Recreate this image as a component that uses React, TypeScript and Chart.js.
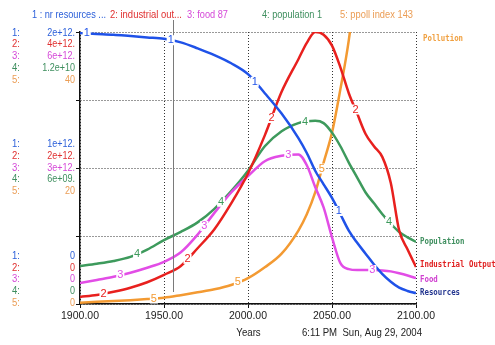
import { useEffect, useRef } from "react";
import { Chart, registerables } from "chart.js";
Chart.register(...registerables);

// ---- data ----
const years = [1900, 1910, 1920, 1930, 1940, 1950, 1960, 1970, 1980, 1990, 2000, 2010, 2020, 2030, 2035, 2040, 2045, 2050, 2055, 2060, 2065, 2070, 2075, 2080, 2085, 2090, 2095, 2100];
// nr resources (units of 1e12)
const resources = [1.992, 1.986, 1.98, 1.97, 1.96, 1.95, 1.924, 1.88, 1.83, 1.77, 1.69, 1.55, 1.40, 1.22, 1.11, 0.98, 0.88, 0.78, 0.66, 0.54, 0.45, 0.37, 0.29, 0.22, 0.164, 0.12, 0.096, 0.08];
// industrial output (units of 1e12)
const industrial = [0.104, 0.132, 0.18, 0.24, 0.32, 0.428, 0.56, 0.82, 1.10, 1.48, 1.92, 2.48, 3.12, 3.60, 3.84, 4.0, 3.96, 3.80, 3.48, 3.10, 2.80, 2.50, 2.32, 2.16, 1.78, 1.08, 0.80, 0.544];
// food (units of 1e12)
const food = [0.46, 0.53, 0.60, 0.69, 0.80, 0.93, 1.14, 1.53, 2.01, 2.46, 2.82, 3.15, 3.27, 3.30, 3.06, 2.58, 2.13, 1.47, 0.90, 0.77, 0.75, 0.75, 0.75, 0.74, 0.72, 0.68, 0.63, 0.57];
// population (units of 1e9)
const population = [1.68, 1.78, 1.90, 2.08, 2.40, 2.82, 3.18, 3.60, 4.20, 4.98, 5.88, 6.96, 7.62, 7.98, 8.06, 8.08, 7.98, 7.56, 6.96, 6.24, 5.58, 4.92, 4.44, 3.96, 3.54, 3.18, 2.94, 2.74];
// persistent pollution index
const pollution = [0.2, 0.32, 0.44, 0.56, 0.72, 0.92, 1.3, 1.72, 2.16, 2.8, 3.8, 5.4, 7.4, 10.8, 13.2, 16.4, 20.8, 25.2, 31.6, 38.8, 49, 60, 72, 85, 98, 112, 127, 143];

const seriesValues = [resources, industrial, food, population, pollution];
const seriesNames = ["nr resources", "industrial output", "food", "population", "ppoll index"];
const scaleMax = [2, 4, 6, 12, 40];
const scaleTop = ["2e+12.", "4e+12.", "6e+12.", "1.2e+10", "40"];
const scaleMid = ["1e+12.", "2e+12.", "3e+12.", "6e+09.", "20"];
const scaleBot = ["0", "0", "0", "0", "0"];
const xTicks = [1900, 1950, 2000, 2050, 2100];
const legendTexts = ["1 : nr resources ...", "2: industrial out...", "3: food 87", "4: population 1", "5: ppoll index 143"];
const endLabels = ["Resources", "Industrial Output", "Food", "Population", "Pollution"];
const cursorYear = 1955.5;
const axisTitle = "Years";
const stamp = "6:11 PM  Sun, Aug 29, 2004";

// ---- styles / layout ----
const lineColors = ["#1f52e8", "#e8201e", "#e24de6", "#3d9a5c", "#f39a32"];
const textColors = ["#2b5fd9", "#e03030", "#d548d8", "#3f8f5f", "#eb9d55"];
const endColors = ["#22348f", "#e02020", "#d040d0", "#3f8f5f", "#f0a040"];
const legendPos = [[32, 74], [110, 72], [187, 41], [262, 60], [340, 73]];
const endLabelY = [293, 265, 280, 242, 39];

function valueAt(xs: number[], ys: number[], x: number) {
  for (let i = 0; i < xs.length - 1; i++) {
    if (x >= xs[i] && x <= xs[i + 1]) {
      const t = (x - xs[i]) / (xs[i + 1] - xs[i]);
      return ys[i] + t * (ys[i + 1] - ys[i]);
    }
  }
  return ys[ys.length - 1];
}

function drawFit(ctx: CanvasRenderingContext2D, text: string, x: number, y: number, width: number | null, font: string, color: string, align: "left" | "right" | "center" = "left", sxFixed?: number) {
  ctx.save();
  ctx.font = font;
  ctx.fillStyle = color;
  ctx.textBaseline = "middle";
  ctx.textAlign = "left";
  const w = ctx.measureText(text).width;
  const sx = sxFixed !== undefined ? sxFixed : width ? width / w : 1;
  const rw = w * sx;
  let left = x;
  if (align === "right") left = x - rw;
  else if (align === "center") left = x - rw / 2;
  ctx.translate(left, y);
  ctx.scale(sx, 1);
  ctx.fillText(text, 0, 0);
  ctx.restore();
}

const overlay = {
  id: "overlay",
  afterDatasetsDraw(chart: any) {
    const ctx: CanvasRenderingContext2D = chart.ctx;
    const area = chart.chartArea;
    const xs = chart.scales.x;
    // cursor line
    const cx = Math.round(xs.getPixelForValue(cursorYear)) + 0.5;
    ctx.save();
    ctx.strokeStyle = "#7a7a7a";
    ctx.lineWidth = 1;
    ctx.beginPath();
    ctx.moveTo(cx, area.top - 12);
    ctx.lineTo(cx, area.bottom - 12);
    ctx.stroke();
    ctx.restore();
    // numbered series labels
    seriesValues.forEach((vals, i) => {
      const ys = chart.scales["y" + (i + 1)];
      for (let k = 0; k < 4; k++) {
        const yr = 1904 + 10 * i + 50 * k;
        const v = valueAt(years, vals, yr);
        if (v > scaleMax[i]) continue;
        const px = xs.getPixelForValue(yr);
        const py = ys.getPixelForValue(v);
        ctx.save();
        ctx.font = "11px 'Liberation Sans'";
        const w = ctx.measureText(String(i + 1)).width;
        ctx.fillStyle = "#fff";
        ctx.fillRect(px - w / 2 - 1, py - 5, w + 2, 10);
        ctx.fillStyle = lineColors[i];
        ctx.textAlign = "center";
        ctx.textBaseline = "middle";
        ctx.fillText(String(i + 1), px, py);
        ctx.restore();
      }
    });
  },
  afterDraw(chart: any) {
    const ctx: CanvasRenderingContext2D = chart.ctx;
    const area = chart.chartArea;
    const y1 = chart.scales.y1;
    // legend
    legendTexts.forEach((t, i) => {
      drawFit(ctx, t, legendPos[i][0], 15, legendPos[i][1], "11px 'Liberation Sans'", textColors[i]);
    });
    // left scale labels
    const topY = y1.getPixelForValue(scaleMax[0]) + 1;
    const midY = y1.getPixelForValue(scaleMax[0] / 2);
    const botY = y1.getPixelForValue(0) - 1;
    const rowH = 11.7;
    const font = "10px 'Liberation Sans'";
    for (let j = 0; j < 5; j++) {
      const rows = [topY + j * rowH, midY + (j - 2) * rowH, botY - (4 - j) * rowH];
      const texts = [scaleTop[j], scaleMid[j], scaleBot[j]];
      rows.forEach((ry, b) => {
        drawFit(ctx, (j + 1) + ":", 12, ry, null, font, textColors[j], "left", 0.95);
        drawFit(ctx, texts[b], 75, ry, null, font, textColors[j], "right", 0.9);
      });
    }
    // end labels (monospace)
    endLabels.forEach((t, i) => {
      const f = "bold 9px 'DejaVu Sans Mono'";
      ctx.save();
      ctx.font = f;
      const w = ctx.measureText(t).width;
      ctx.restore();
      const sx = (4.45 * t.length) / w;
      drawFit(ctx, t, i === 4 ? area.right + 7 : area.right + 4, endLabelY[i], null, f, endColors[i], "left", sx);
    });
    // bottom texts
    drawFit(ctx, axisTitle, (area.left + area.right) / 2 + 0.5, 333, null, "10.5px 'Liberation Sans'", "#222", "center", 0.92);
    drawFit(ctx, stamp, 302, 333, 120, "10.5px 'Liberation Sans'", "#222", "left");
  },
};

export default function App() {
  const ref = useRef<HTMLCanvasElement>(null);
  useEffect(() => {
    if (!ref.current) return;
    const gridOpts = { color: "#333", lineWidth: 1, tickLength: 4, tickColor: "#111", tickBorderDash: [] as number[], tickWidth: 1 };
    const borderOpts = { display: true, color: "#111", width: 1.5, dash: [1, 2] };
    const scales: any = {
      x: {
        type: "linear",
        min: 1900,
        max: 2100,
        afterBuildTicks: (s: any) => {
          s.ticks = xTicks.map((v) => ({ value: v }));
        },
        ticks: {
          callback: (v: any) => Number(v).toFixed(2),
          font: { family: "Liberation Sans", size: 10.5 },
          color: "#222",
          padding: 2,
          maxRotation: 0,
          autoSkip: false,
        },
        grid: gridOpts,
        border: borderOpts,
        afterFit: (s: any) => {
          s.height = 41;
        },
      },
      y1: {
        type: "linear",
        position: "left",
        min: 0,
        max: scaleMax[0],
        ticks: { stepSize: scaleMax[0] / 4, display: false },
        grid: gridOpts,
        border: borderOpts,
        afterFit: (s: any) => {
          s.width = 80;
        },
      },
    };
    for (let i = 1; i < 5; i++) {
      scales["y" + (i + 1)] = { type: "linear", display: false, min: 0, max: scaleMax[i] };
    }
    const chart = new Chart(ref.current, {
      type: "line",
      data: {
        datasets: seriesValues.map((vals, i) => ({
          label: seriesNames[i],
          data: years.map((yr, j) => ({ x: yr, y: vals[j] })),
          borderColor: lineColors[i],
          backgroundColor: lineColors[i],
          borderWidth: 2.5,
          pointRadius: 0,
          cubicInterpolationMode: "monotone" as const,
          yAxisID: "y" + (i + 1),
        })),
      },
      options: {
        animation: false,
        responsive: false,
        devicePixelRatio: 1,
        layout: { padding: { top: 32, right: 79, left: 0, bottom: 0 } },
        plugins: { legend: { display: false }, tooltip: { enabled: false } },
        scales,
      },
      plugins: [overlay],
    });
    return () => chart.destroy();
  }, []);
  return (
    <div style={{ position: "fixed", left: 0, top: 0, width: 495, height: 345, background: "#fff" }}>
      <canvas ref={ref} width={495} height={345} style={{ width: 495, height: 345, display: "block" }} />
    </div>
  );
}
